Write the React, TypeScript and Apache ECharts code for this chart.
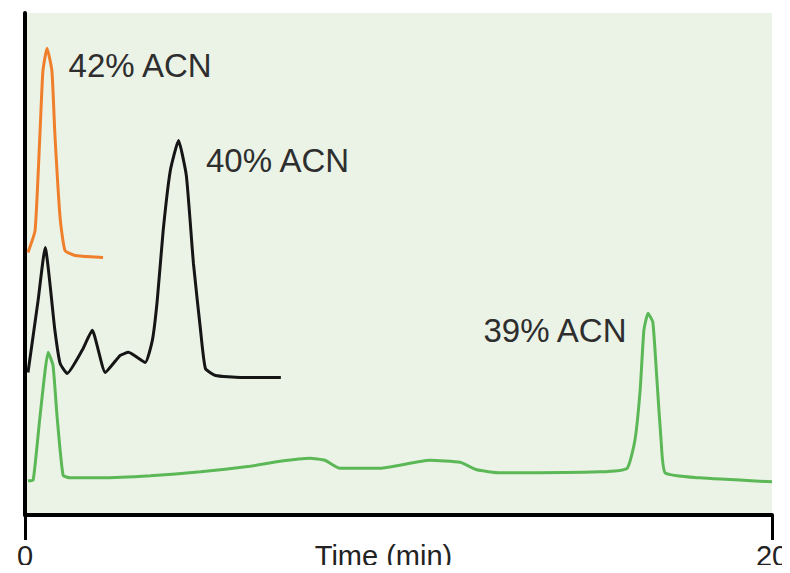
import React, { useEffect, useRef } from "react";
import * as echarts from "echarts";

// Time (min) and detector response (arbitrary units, traces offset as in the figure)
const orangeTrace: [number, number][] = [
  [0.08, 52.3], [0.27, 56.7], [0.4, 75.9], [0.48, 88.5], [0.59, 93.0],
  [0.72, 88.5], [0.8, 75.9], [0.94, 59.2], [1.07, 52.7], [1.34, 51.7], [2.09, 51.3],
];

const blackTrace: [number, number][] = [
  [0.08, 28.4], [0.35, 42.7], [0.54, 53.3], [0.8, 36.8], [0.94, 30.2], [1.13, 28.2],
  [1.53, 32.8], [1.8, 36.8], [2.15, 28.4], [2.55, 31.8], [2.77, 32.4], [3.22, 30.4],
  [3.41, 34.8], [3.54, 42.7], [3.7, 56.7], [3.89, 68.6], [4.11, 74.6], [4.32, 67.6],
  [4.51, 50.1], [4.7, 36.8], [4.83, 29.2], [5.1, 27.8], [5.77, 27.4], [6.85, 27.4],
];

const greenTrace: [number, number][] = [
  [0.08, 6.8], [0.22, 7.0], [0.4, 19.5], [0.62, 32.4], [0.75, 29.8], [0.86, 19.5],
  [1.02, 7.9], [1.21, 7.4], [2.01, 7.4], [3.36, 7.8], [4.7, 8.6], [6.02, 9.7],
  [6.83, 10.7], [7.63, 11.3], [8.03, 10.9], [8.43, 9.3], [9.5, 9.3], [10.84, 10.9],
  [11.65, 10.5], [12.1, 9.0], [12.72, 8.4], [15.39, 8.6], [16.12, 9.3], [16.33, 14.9],
  [16.47, 24.9], [16.57, 36.8], [16.68, 40.2], [16.81, 38.4], [16.92, 26.8],
  [17.03, 14.9], [17.14, 8.4], [18.07, 7.4], [20.0, 6.6],
];

const peakLabels = ["42% ACN", "40% ACN", "39% ACN"];
const xTickLabels = ["0", "20"];

export default function App() {
  const ref = useRef<HTMLDivElement>(null);
  useEffect(() => {
    if (!ref.current) return;
    const chart = echarts.init(ref.current, undefined, { renderer: "svg" });
    const labelStyle = {
      color: "#2e2e2e",
      fontSize: 33,
      fontFamily: "Liberation Sans, Arial, sans-serif",
    };
    const peakOf = (d: [number, number][]) =>
      d.reduce((a, b) => (b[1] > a[1] ? b : a), d[0]);
    const mk = (d: [number, number][], text: string, pos: string, offset: number[]) => ({
      symbol: "circle",
      symbolSize: 1,
      itemStyle: { color: "rgba(0,0,0,0)" },
      data: [
        {
          coord: peakOf(d),
          label: { show: true, formatter: text, position: pos, distance: 0, offset, ...labelStyle },
        },
      ],
    });
    const lineSeries = (d: [number, number][], color: string, markPoint: any) => ({
      type: "line",
      data: d,
      showSymbol: false,
      symbol: "none",
      smooth: 0.15,
      lineStyle: { color, width: 3 },
      markPoint,
      z: 3,
    });
    chart.setOption({
      animation: false,
      backgroundColor: "#ffffff",
      grid: {
        left: 25,
        right: 18,
        top: 13,
        bottom: 58,
        show: true,
        backgroundColor: "#ebf3e7",
        borderWidth: 0,
        containLabel: false,
        outerBoundsMode: "none",
      },
      xAxis: {
        type: "value",
        min: 0,
        max: 20,
        interval: 20,
        splitLine: { show: false },
        axisLine: { show: true, lineStyle: { color: "#000", width: 4 } },
        axisTick: { show: true, length: 25, lineStyle: { color: "#000", width: 3 } },
        axisLabel: {
          margin: 26,
          color: "#222",
          fontSize: 29,
          fontFamily: "Liberation Sans, Arial, sans-serif",
          formatter: (v: number) => (v === 0 ? xTickLabels[0] : v === 20 ? xTickLabels[1] : ""),
        },
        name: "Time (min)",
        nameLocation: "middle",
        nameGap: 26,
        nameMoveOverlap: false,
        nameTextStyle: {
          color: "#222",
          fontSize: 29,
          fontFamily: "Liberation Sans, Arial, sans-serif",
          verticalAlign: "top",
          padding: [0, 30, 0, 0],
        },
      },
      yAxis: {
        type: "value",
        min: 0,
        max: 100,
        splitLine: { show: false },
        axisLine: { show: true, lineStyle: { color: "#000", width: 4 } },
        axisTick: { show: false },
        axisLabel: { show: false },
      },
      series: [
        lineSeries(greenTrace, "#5cb856", mk(greenTrace, peakLabels[2], "left", [-21, 17])),
        lineSeries(blackTrace, "#151515", mk(blackTrace, peakLabels[1], "right", [27, 20])),
        lineSeries(orangeTrace, "#f07f2c", mk(orangeTrace, peakLabels[0], "right", [21, 17])),
      ],
    });
    return () => chart.dispose();
  }, []);
  return <div ref={ref} style={{ width: 790, height: 573, margin: -8 }} />;
}
